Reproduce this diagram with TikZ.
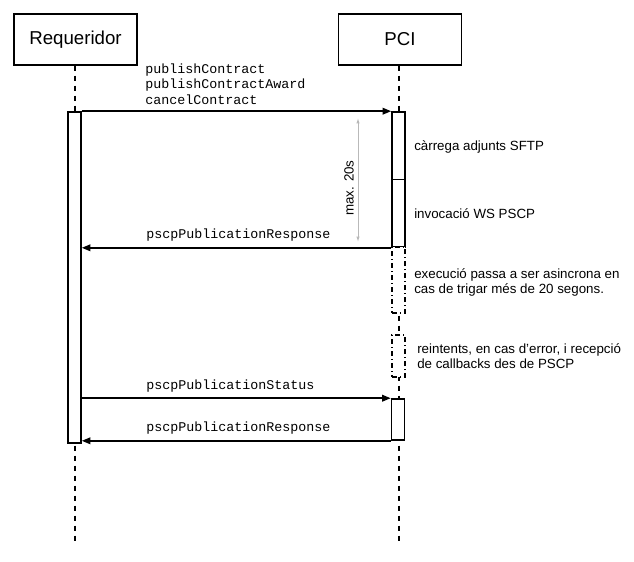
\documentclass[tikz,border=0pt]{standalone}
\usepackage{fontspec}
\setmainfont{Liberation Sans}
\setmonofont{Liberation Mono}
\usetikzlibrary{arrows.meta}

\begin{document}
\begin{tikzpicture}[x=0.75pt,y=-0.75pt,
    actor/.style={draw=black,line width=1.2pt,minimum width=92pt,minimum height=38pt,inner sep=0pt,font=\fontsize{14}{16}\selectfont},
    lifeline/.style={black,line width=1.1pt,dash pattern=on 4pt off 3.5pt},
    activation/.style={draw=black,fill=white,line width=1.2pt,minimum width=9.75pt,inner sep=0pt},
    async/.style={draw=black,fill=white,line width=1.1pt,minimum width=9.75pt,inner sep=0pt,dash pattern=on 4pt off 2pt on 1pt off 2pt},
    msg/.style={black,line width=1.2pt,-{Triangle[length=6.5pt,width=5pt]}},
    msglabel/.style={anchor=west,inner sep=0pt,align=left,font=\ttfamily\fontsize{10}{11.6}\selectfont},
    note/.style={anchor=west,inner sep=0pt,align=left,font=\fontsize{10}{11.25}\selectfont}]
      \useasboundingbox (0,0) rectangle (634,561);

      % participants
      \node[actor] (req) at (75.5,39.5) {Requeridor};
      \node[actor] (pci) at (400,39.5) {PCI};
      \coordinate (reqend) at (75,543);
      \coordinate (pciend) at (399,543);
      \draw[lifeline] (req.south -| reqend) -- (reqend);
      \draw[lifeline] (pci.south -| pciend) -- (pciend);

      % activations
      \node[activation,minimum height=248.25pt] (reqact) at (74.5,277.5) {};
      \node[activation,minimum height=101.25pt] (pciact) at (398.5,179.5) {};
      \draw[black,line width=1.2pt] (pciact.west) -- (pciact.east);
      \node[async,minimum height=49.5pt] (wait) at (398.5,280) {};
      \node[async,minimum height=31.5pt] (retry) at (398.5,356) {};
      \node[activation,minimum height=30.75pt] (pciact2) at (398,419.5) {};

      % messages
      \draw[msg] (reqact.north east) -- (pciact.north west);
      \draw[msg] (pciact.south west) -- (reqact.east |- pciact.south);
      \draw[msg] (reqact.east |- pciact2.north) -- (pciact2.north west);
      \draw[msg] (pciact2.south west) -- (reqact.east |- pciact2.south);

      \node[msglabel] (call) at (145,84) {publishContract\\publishContractAward\\cancelContract};
      \node[msglabel] (resp) at (146,235) {pscpPublicationResponse};
      \node[msglabel] (status) at (146,386) {pscpPublicationStatus};
      \node[msglabel] (resp2) at (146,428) {pscpPublicationResponse};

      % timeout
      \coordinate (tmtop) at (358,118);
      \coordinate (tmbot) at (358,242);
      \draw[gray!55,line width=0.7pt,{Latex[length=4pt,width=2.5pt]}-{Latex[length=4pt,width=2.5pt]}] (tmtop) -- (tmbot);
      \node[rotate=90,inner sep=0pt,font=\fontsize{10}{12}\selectfont] (tmlabel) at (349,188) {max. 20s};

      % notes
      \node[note] (sftp) at (414,147) {càrrega adjunts SFTP};
      \node[note] (ws) at (414,214) {invocació WS PSCP};
      \node[note] (asyn) at (414,282.5) {execució passa a ser asincrona en\\cas de trigar més de 20 segons.};
      \node[note] (cb) at (417,356) {reintents, en cas d'error, i recepció\\de callbacks des de PSCP};
    \end{tikzpicture}
\end{document}
